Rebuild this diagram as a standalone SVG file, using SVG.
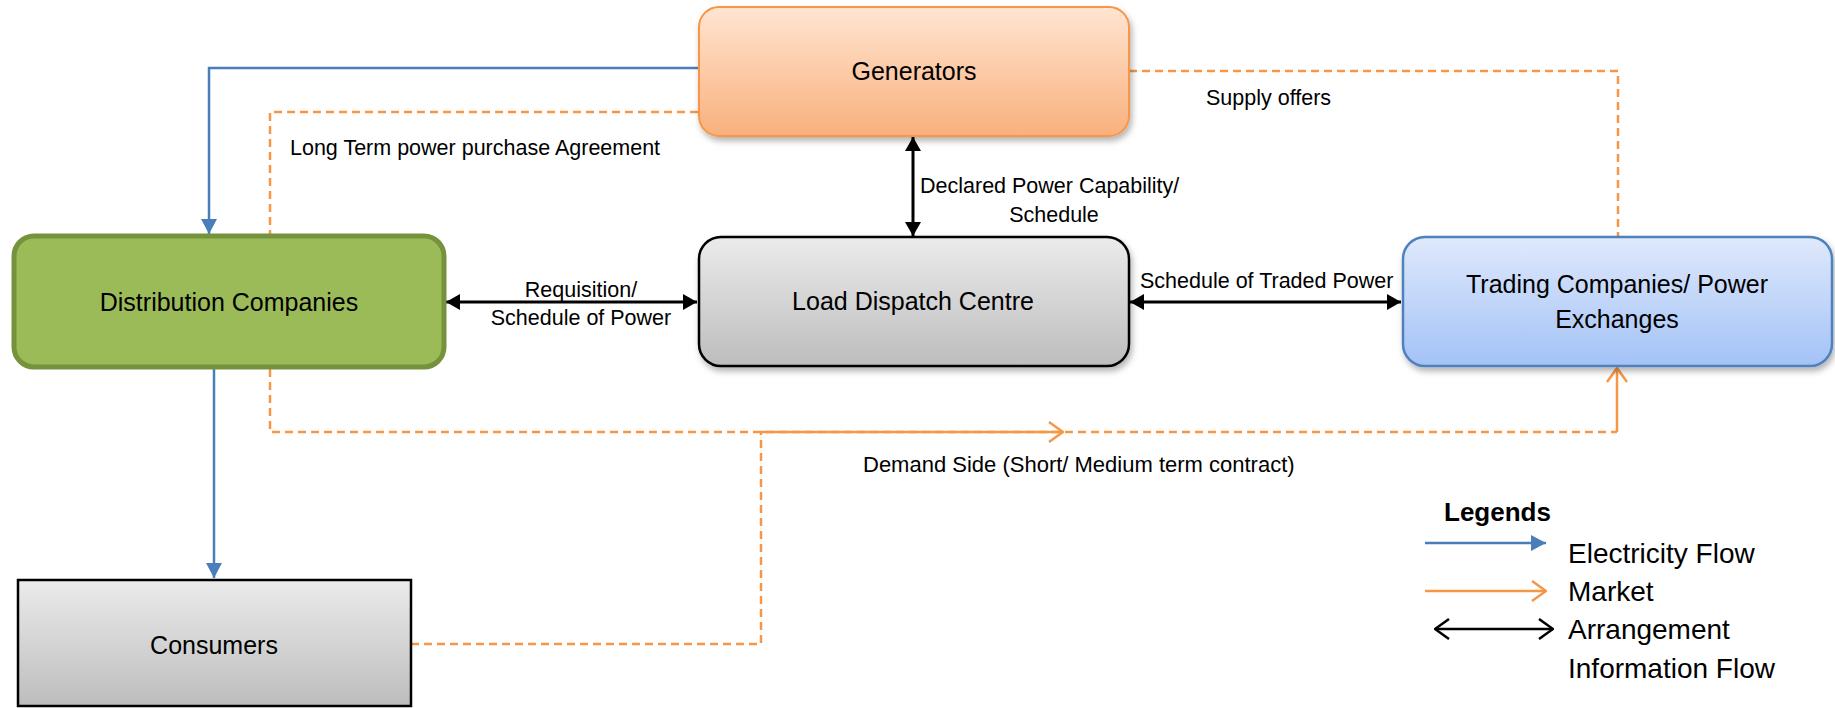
<svg xmlns="http://www.w3.org/2000/svg" width="1835" height="708" viewBox="0 0 1835 708">
<style>
text{font-family:"Liberation Sans",Arial,sans-serif;fill:#000}
.node{font-size:25px;text-anchor:middle}
.lbl{font-size:21.5px}
.mid{text-anchor:middle}
.leg{font-size:28px}
.blue{stroke:#4A7EBB;stroke-width:2.5;fill:none}
.orange{stroke:#F79646;stroke-width:2.5;fill:none}
.dash{stroke-dasharray:8 5}
.blk{stroke:#000;stroke-width:3;fill:none}
</style>
<defs>
<linearGradient id="gGen" x1="0" y1="0" x2="0" y2="1"><stop offset="0" stop-color="#FFE5D2"/><stop offset="1" stop-color="#F9B07C"/></linearGradient>
<linearGradient id="gGray" x1="0" y1="0" x2="0" y2="1"><stop offset="0" stop-color="#EBEBEB"/><stop offset="1" stop-color="#BDBDBD"/></linearGradient>
<linearGradient id="gBlue" x1="0" y1="0" x2="0" y2="1"><stop offset="0" stop-color="#DFE9FC"/><stop offset="1" stop-color="#A3C2F6"/></linearGradient>
<filter id="sh" x="-10%" y="-10%" width="120%" height="130%"><feDropShadow dx="2" dy="4" stdDeviation="3" flood-color="#000" flood-opacity="0.3"/></filter>
<marker id="aBlk" viewBox="0 0 14 16" refX="14" refY="8" markerWidth="14" markerHeight="16" markerUnits="userSpaceOnUse" orient="auto-start-reverse"><path d="M0,0 L14,8 L0,16 z" fill="#000"/></marker>
<marker id="aBlue" viewBox="0 0 15 16" refX="15" refY="8" markerWidth="15" markerHeight="16" markerUnits="userSpaceOnUse" orient="auto"><path d="M0,0 L15,8 L0,16 z" fill="#4A7EBB"/></marker>
<marker id="aOr" viewBox="0 0 16 22" refX="15" refY="11" markerWidth="16" markerHeight="22" markerUnits="userSpaceOnUse" orient="auto"><path d="M1,1 L15,11 L1,21" fill="none" stroke="#F79646" stroke-width="2.5"/></marker>
<marker id="aBlkO" viewBox="0 0 16 22" refX="15" refY="11" markerWidth="16" markerHeight="22" markerUnits="userSpaceOnUse" orient="auto-start-reverse"><path d="M1,1 L15,11 L1,21" fill="none" stroke="#000" stroke-width="2.5"/></marker>
</defs>

<g id="connectors">
<path class="orange dash" d="M698,112 H270 V234"/>
<path class="orange dash" d="M1129,71 H1618 V237"/>
<path class="orange dash" d="M270,369 V432 H1617"/>
<path class="orange dash" d="M411,644 H761 V432"/>
<path class="orange" d="M761,432 H1063" marker-end="url(#aOr)"/>
<path class="orange" d="M1617,432 V368" marker-end="url(#aOr)"/>
<path class="blue" d="M698,68 H209 V234" marker-end="url(#aBlue)"/>
<path class="blue" d="M214,369 V578" marker-end="url(#aBlue)"/>
<path class="blk" d="M446,302 H697" marker-start="url(#aBlk)" marker-end="url(#aBlk)"/>
<path class="blk" d="M913,137 V236" marker-start="url(#aBlk)" marker-end="url(#aBlk)"/>
<path class="blk" d="M1130,302 H1401" marker-start="url(#aBlk)" marker-end="url(#aBlk)"/>
</g>

<g id="labels">
<text class="lbl" x="290" y="155">Long Term power purchase Agreement</text>
<text class="lbl" x="1206" y="105">Supply offers</text>
<text class="lbl" x="920" y="193">Declared Power Capability/</text>
<text class="lbl mid" x="1054" y="222">Schedule</text>
<text class="lbl mid" x="581" y="297">Requisition/</text>
<text class="lbl mid" x="581" y="325">Schedule of Power</text>
<text class="lbl" x="1140" y="288">Schedule of Traded Power</text>
<text class="lbl" x="863" y="472" style="font-size:22px">Demand Side (Short/ Medium term contract)</text>
</g>

<g id="generators">
<rect x="699" y="7" width="430" height="129" rx="20" fill="url(#gGen)" stroke="#F79646" stroke-width="2" filter="url(#sh)"/>
<text class="node" x="914" y="80">Generators</text>
</g>
<g id="load-dispatch-centre">
<rect x="699" y="237" width="430" height="129" rx="22" fill="url(#gGray)" stroke="#000" stroke-width="2.5" filter="url(#sh)"/>
<text class="node" x="913" y="310">Load Dispatch Centre</text>
</g>
<g id="distribution-companies">
<rect x="14" y="236" width="430" height="131" rx="20" fill="#9BBB59" stroke="#76923C" stroke-width="5"/>
<text class="node" x="229" y="311">Distribution Companies</text>
</g>
<g id="trading-companies">
<rect x="1403" y="237" width="429" height="129" rx="22" fill="url(#gBlue)" stroke="#4F81BD" stroke-width="2.5" filter="url(#sh)"/>
<text class="node" x="1617" y="293">Trading Companies/ Power</text>
<text class="node" x="1617" y="328">Exchanges</text>
</g>
<g id="consumers">
<rect x="18" y="580" width="393" height="126" fill="url(#gGray)" stroke="#000" stroke-width="2.5"/>
<text class="node" x="214" y="654">Consumers</text>
</g>

<g id="legend">
<text x="1444" y="521" style="font-size:26px;font-weight:bold">Legends</text>
<path class="blue" d="M1425,543 H1546" marker-end="url(#aBlue)"/>
<text class="leg" x="1568" y="563">Electricity Flow</text>
<path class="orange" d="M1425,591 H1546" marker-end="url(#aOr)"/>
<text class="leg" x="1568" y="601">Market</text>
<path class="blk" d="M1435,629 H1553" style="stroke-width:2.5" marker-start="url(#aBlkO)" marker-end="url(#aBlkO)"/>
<text class="leg" x="1568" y="639">Arrangement</text>
<text class="leg" x="1568" y="678">Information Flow</text>
</g>
</svg>
